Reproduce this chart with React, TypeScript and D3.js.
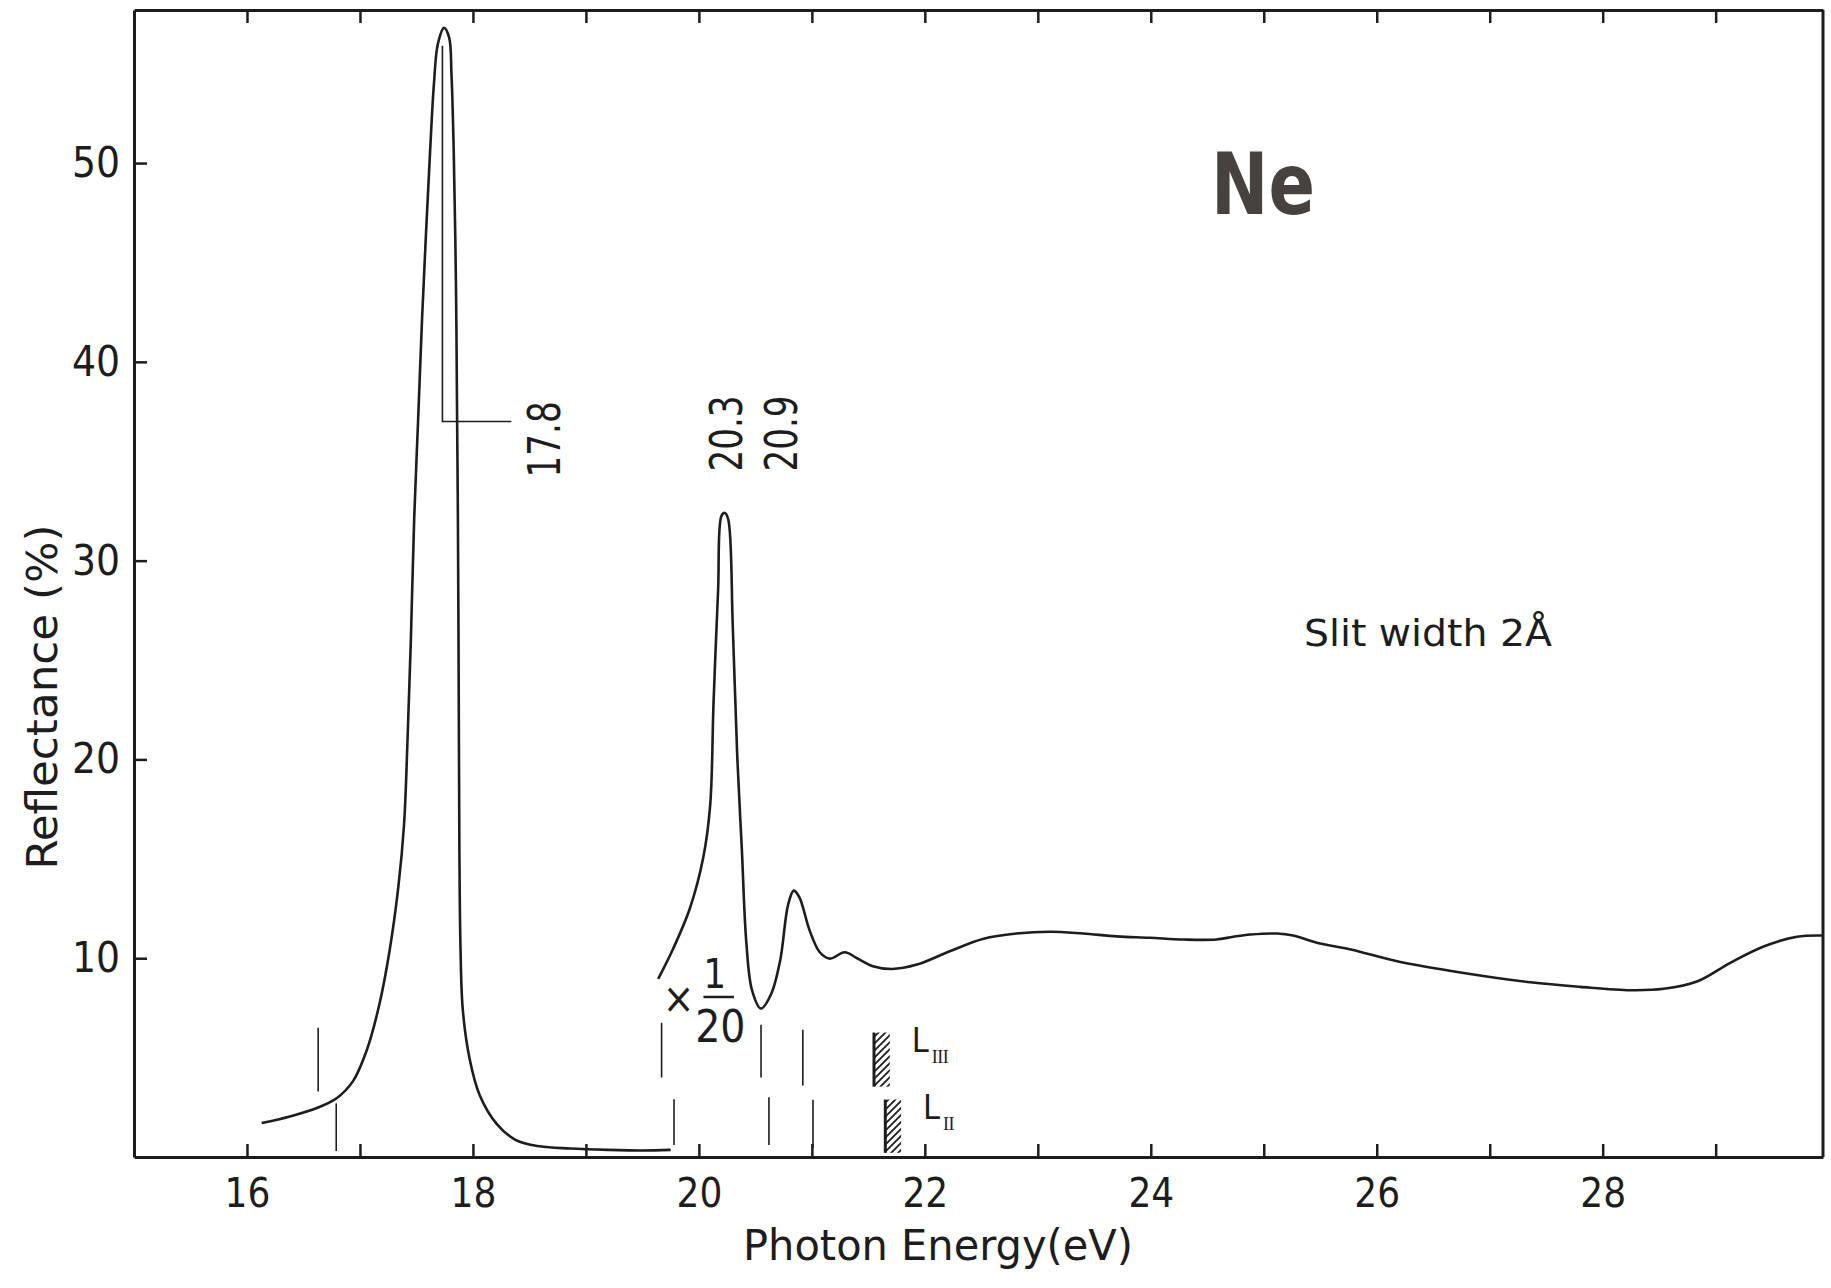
import React, { useEffect, useRef } from 'react';
import * as d3 from 'd3';

const W = 1831;
const H = 1288;
const FONT = "'DejaVu Sans Condensed', 'DejaVu Sans', sans-serif";
const INK = '#1d1d1d';

// reflectance around the 17.8 eV exciton (plotted as measured)
const lowEnergy = [16.13, 16.38, 16.63, 16.79, 16.94, 17.06, 17.17, 17.26, 17.34, 17.39, 17.42, 17.45, 17.48, 17.515, 17.55, 17.585, 17.62, 17.655, 17.69, 17.745, 17.79, 17.81, 17.83, 17.85, 17.86, 17.867, 17.874, 17.88, 17.89, 17.91, 17.97, 18.06, 18.21, 18.38, 18.59, 18.86, 19.2, 19.5, 19.75];
const lowRefl = [1.71, 2.04, 2.49, 2.94, 3.83, 5.37, 7.63, 10.3, 13.6, 16.7, 20.8, 25.9, 32.1, 37.1, 42.2, 46.5, 50.5, 54.0, 56.0, 56.8, 56.3, 54.5, 50.6, 43.8, 37.1, 32.1, 23.9, 15.65, 10.5, 7.43, 4.96, 3.11, 1.67, 0.85, 0.54, 0.43, 0.36, 0.33, 0.36];

// branch drawn with x 1/20
const highEnergy = [19.64, 19.77, 19.92, 20.04, 20.1, 20.13, 20.17, 20.2, 20.23, 20.26, 20.3, 20.34, 20.38, 20.42, 20.47, 20.55, 20.64, 20.72, 20.79, 20.84, 20.89, 20.98, 21.07, 21.16, 21.29, 21.4, 21.54, 21.71, 21.93, 22.22, 22.52, 22.81, 23.11, 23.4, 23.7, 23.99, 24.29, 24.58, 24.73, 24.88, 25.12, 25.26, 25.47, 25.77, 26.18, 26.77, 27.36, 27.8, 28.25, 28.54, 28.84, 29.13, 29.43, 29.72, 29.95];
const highRefl = [8.96, 10.45, 12.5, 15.1, 17.7, 22.9, 28.5, 32.25, 32.4, 32.07, 26.7, 20.1, 15.5, 10.8, 8.4, 7.47, 8.2, 9.9, 12.7, 13.4, 13.06, 11.4, 10.3, 9.98, 10.3, 10.0, 9.6, 9.46, 9.68, 10.35, 10.98, 11.24, 11.33, 11.24, 11.1, 11.03, 10.94, 10.94, 11.08, 11.19, 11.24, 11.14, 10.78, 10.44, 9.85, 9.26, 8.79, 8.56, 8.39, 8.46, 8.84, 9.77, 10.6, 11.08, 11.14];

const xTicks = [16, 17, 18, 19, 20, 21, 22, 23, 24, 25, 26, 27, 28, 29];
const xLabelled = [16, 18, 20, 22, 24, 26, 28];
const yTicks = [10, 20, 30, 40, 50];

// Rydberg series markers (2P3/2 upper row, 2P1/2 lower row)
const upperLines = [16.63, 19.67, 20.55, 20.92];
const upperSpan = [[3.3, 6.5], [4.0, 6.75], [4.0, 6.65], [3.6, 6.4]];
const lowerLines = [16.79, 19.78, 20.62, 21.01];
const lowerSpan = [[0.3, 2.7], [0.6, 2.9], [0.6, 3.0], [0.45, 2.88]];
const edgeNames = ['III', 'II'];
const edgeFrom = [21.55, 21.65];
const edgeTo = [21.69, 21.79];
const edgeLo = [3.54, 0.21];
const edgeHi = [6.26, 2.89];

const peakLabels = ['17.8', '20.3', '20.9'];
const peakLabelX = [18.77, 20.38, 20.865];
const peakLabelY = [36.1, 36.4, 36.4];

const x = d3.scaleLinear().domain([15, 29.95]).range([134, 1823]);
const y = d3.scaleLinear().domain([0, 57.7]).range([1157, 10]);

function App() {
  const bottomRef = useRef(null);
  const topRef = useRef(null);
  const leftRef = useRef(null);

  useEffect(() => {
    const bottom = d3.select(bottomRef.current);
    bottom.call(
      d3.axisBottom(x).tickValues(xTicks).tickSize(-13).tickSizeOuter(0).tickPadding(22)
        .tickFormat((d) => (xLabelled.includes(d) ? String(d) : ''))
    );
    bottom.attr('font-size', 40).attr('font-family', FONT);
    bottom.selectAll('text').attr('fill', INK);

    const top = d3.select(topRef.current);
    top.call(d3.axisTop(x).tickValues(xTicks).tickSize(-13).tickSizeOuter(0).tickFormat(() => ''));

    const left = d3.select(leftRef.current);
    left.call(d3.axisLeft(y).tickValues(yTicks).tickSize(-13).tickSizeOuter(0).tickPadding(14));
    left.attr('font-size', 42).attr('font-family', FONT);
    left.selectAll('text').attr('fill', INK);

    [bottom, top, left].forEach((g) => {
      g.select('.domain').attr('stroke', INK).attr('stroke-width', 3);
      g.selectAll('.tick line').attr('stroke', INK).attr('stroke-width', 2.5);
    });
  }, []);

  const curve = d3.line<number>()
    .x((d, i) => x(d))
    .curve(d3.curveCatmullRom.alpha(0.5));
  const lowPath = curve.y((d, i) => y(lowRefl[i]))(lowEnergy);
  const highPath = curve.y((d, i) => y(highRefl[i]))(highEnergy);

  return (
    <svg width={W} height={H} style={{ position: 'absolute', left: 0, top: 0, display: 'block', background: '#fff' }}>
      <defs>
        <pattern id="hatch" patternUnits="userSpaceOnUse" width="7" height="7">
          <path d="M-1,1 l2,-2 M0,7 l7,-7 M6,8 l2,-2" stroke={INK} strokeWidth="1.8" />
        </pattern>
      </defs>

      <g ref={topRef} transform={`translate(0,${y(57.7)})`} />
      <g ref={bottomRef} transform={`translate(0,${y(0)})`} />
      <g ref={leftRef} transform={`translate(${x(15)},0)`} />
      <line x1={x(29.95)} x2={x(29.95)} y1={y(57.7)} y2={y(0)} stroke={INK} strokeWidth={3} />

      <path d={lowPath} fill="none" stroke={INK} strokeWidth={2.6} />
      <path d={highPath} fill="none" stroke={INK} strokeWidth={2.6} />

      {/* leader for the 17.8 eV peak */}
      <path
        d={`M${x(17.73)},${y(55.9)}V${y(37.0)}H${x(18.34)}`}
        fill="none" stroke={INK} strokeWidth={1.6}
      />
      {peakLabels.map((t, i) => (
        <text key={t} transform={`translate(${x(peakLabelX[i])},${y(peakLabelY[i])}) rotate(-90)`}
          textAnchor="middle" fontFamily={FONT} fontSize={44} fill={INK}
          textLength={76} lengthAdjust="spacingAndGlyphs">{t}</text>
      ))}

      {/* x 1/20 */}
      <text x={x(19.82)} y={y(8.0)} dy="0.35em" textAnchor="middle" fontFamily={FONT} fontSize={42} fill={INK}>×</text>
      <text x={x(20.14)} y={y(8.5)} textAnchor="middle" fontFamily={FONT} fontSize={40} fill={INK}>1</text>
      <line x1={x(20.04)} x2={x(20.31)} y1={y(8.05)} y2={y(8.05)} stroke={INK} strokeWidth={2.5} />
      <text x={x(20.19)} y={y(5.8)} textAnchor="middle" fontFamily={FONT} fontSize={44} fill={INK}>20</text>

      {upperLines.map((e, i) => (
        <line key={`u${e}`} x1={x(e)} x2={x(e)} y1={y(upperSpan[i][0])} y2={y(upperSpan[i][1])} stroke={INK} strokeWidth={1.6} />
      ))}
      {lowerLines.map((e, i) => (
        <line key={`l${e}`} x1={x(e)} x2={x(e)} y1={y(lowerSpan[i][0])} y2={y(lowerSpan[i][1])} stroke={INK} strokeWidth={1.6} />
      ))}

      {edgeNames.map((n, i) => (
        <g key={n}>
          <rect x={x(edgeFrom[i])} y={y(edgeHi[i])} width={x(edgeTo[i]) - x(edgeFrom[i])}
            height={y(edgeLo[i]) - y(edgeHi[i])} fill="url(#hatch)" />
          <line x1={x(edgeFrom[i])} x2={x(edgeFrom[i])} y1={y(edgeHi[i])} y2={y(edgeLo[i])} stroke={INK} strokeWidth={3} />
          <text x={x(edgeTo[i]) + 22} y={y(edgeHi[i]) + 19} fontFamily={FONT} fontSize={34} fill={INK}>L</text>
          <text x={x(edgeTo[i]) + 42} y={y(edgeHi[i]) + 30} fontFamily="'Liberation Serif', serif" fontSize={18}
            letterSpacing={-0.5} fill={INK}>{n}</text>
        </g>
      ))}

      <text x={1211} y={214} fontFamily={FONT} fontWeight="bold" fontSize={86} fill="#47423d"
        textLength={104} lengthAdjust="spacingAndGlyphs">Ne</text>
      <text x={1304} y={646} fontFamily={FONT} fontSize={38} fill={INK}
        textLength={248} lengthAdjust="spacingAndGlyphs">Slit width 2Å</text>

      <text x={938} y={1260} textAnchor="middle" fontFamily={FONT} fontSize={42} fill={INK}
        textLength={390} lengthAdjust="spacingAndGlyphs">Photon Energy(eV)</text>
      <text transform="translate(57,697) rotate(-90)" textAnchor="middle" fontFamily={FONT} fontSize={42} fill={INK}
        textLength={345} lengthAdjust="spacingAndGlyphs">Reflectance (%)</text>
    </svg>
  );
}

export default App;
